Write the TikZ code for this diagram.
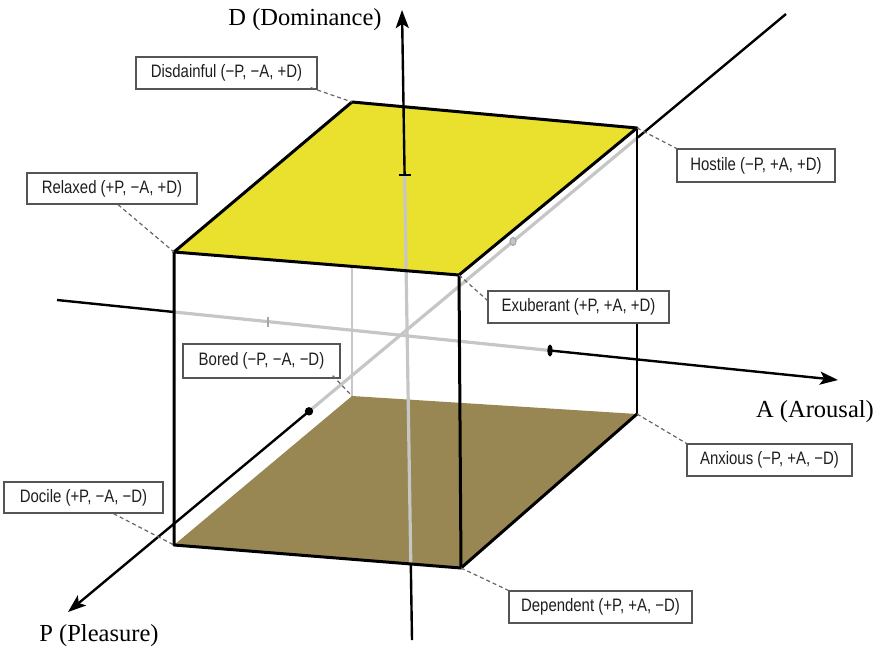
\documentclass[tikz,border=0pt]{standalone}
\usepackage{fontspec}
\setmainfont{Liberation Serif}
\newfontfamily\labfont[FakeStretch=0.83]{Liberation Sans}
\usetikzlibrary{arrows.meta,calc}
\definecolor{topyellow}{RGB}{233,225,45}
\definecolor{floorbrown}{RGB}{152,135,82}
\definecolor{axisgrey}{RGB}{198,198,198}
\definecolor{boxgrey}{RGB}{85,85,85}
\definecolor{textgrey}{RGB}{30,30,30}
\begin{document}
\begin{tikzpicture}[x=1pt,y=-1pt,
  lab/.style={draw=boxgrey,line width=1.3pt,fill=white,
    font=\labfont\fontsize{18}{21}\selectfont,text=textgrey,
    minimum height=32pt,inner sep=2pt},
  leader/.style={draw=black!60,dash pattern=on 4pt off 3pt,line width=1.2pt},
  axisblack/.style={line width=2.4pt,black},
  axisgreyline/.style={line width=3.2pt,axisgrey},
  edge/.style={line width=3pt,black,line join=round,line cap=round},
  arrowtip/.style={-{Stealth[length=18pt,width=13pt,inset=4pt]}},
  axlabel/.style={font=\fontsize{24.5}{28}\selectfont,inner sep=0pt}]
\useasboundingbox (0,0) rectangle (880,648);
% cube corners
\coordinate (tfl) at (174,252);
\coordinate (tbl) at (352,102);
\coordinate (tbr) at (637,128);
\coordinate (tfr) at (459,275);
\coordinate (bfl) at (174,545);
\coordinate (bbl) at (352,396);
\coordinate (bbr) at (637,414);
\coordinate (bfr) at (461,568);
% axis points
\coordinate (dtop) at (402,10);
\coordinate (dbar) at (404.6,175);
\coordinate (dfloor) at (410.8,564);
\coordinate (dbot) at (412,640);
\coordinate (aleft) at (57,300);
\coordinate (aedge) at (174,312);
\coordinate (atick) at (268,321.6);
\coordinate (amark) at (550,350.5);
\coordinate (atip) at (838,380);
\coordinate (ptop) at (786,14);
\coordinate (pcorner) at (638,137.3);
\coordinate (pring) at (513,241.4);
\coordinate (pdot) at (309,411.3);
\coordinate (ptip) at (68,612);
% hidden back edge
\draw[line width=1.3pt,black!22] (tbl) -- (bbl);
% faces
\fill[topyellow] (tfl) -- (tbl) -- (tbr) -- (tfr) -- cycle;
\fill[floorbrown] (bfl) -- (bbl) -- (bbr) -- (bfr) -- cycle;
% grey parts of axes
\draw[axisgreyline] (dbar) -- (dfloor);
\draw[axisgreyline] (aedge) -- (amark);
\draw[axisgreyline] (pcorner) -- (pdot);
% black parts of axes
\draw[axisblack,arrowtip] (dbar) -- (dtop);
\draw[axisblack] (dfloor) -- (dbot);
\draw[axisblack] (aleft) -- (aedge);
\draw[axisblack,arrowtip] (amark) -- (atip);
\draw[axisblack] (pcorner) -- (ptop);
\draw[axisblack,arrowtip] (pdot) -- (ptip);
% markers
\draw[line width=2.6pt] ($(dbar)+(-6,0)$) -- ($(dbar)+(6,0)$);
\fill[black] (amark) ellipse [x radius=2.6pt, y radius=6pt];
\draw[line width=1.8pt,black!35] ($(atick)+(0,-5)$) -- ($(atick)+(0,5)$);
\fill[black] (pdot) circle (4.2pt);
\draw[line width=1.1pt,black!35,fill=axisgrey] (pring) ellipse [x radius=3pt, y radius=4pt];
% cube edges
\draw[edge] (tfl) -- (tbl) -- (tbr) -- (tfr) -- cycle;
\draw[edge] (tfl) -- (bfl) -- (bfr) -- (tfr);
\draw[edge] (bfr) -- (bbr);
\draw[line width=2.2pt,black] (tbr) -- (bbr);
% labels
\node[lab,minimum width=181pt] (dis) at (226.5,73) {Disdainful (−P, −A, +D)};
\node[lab,minimum width=170pt,minimum height=31pt] (rel) at (112,188.5) {Relaxed (+P, −A, +D)};
\node[lab,minimum width=181pt] (exu) at (578.5,307) {Exuberant (+P, +A, +D)};
\node[lab,minimum width=158pt,minimum height=33pt] (hos) at (756,165.5) {Hostile (−P, +A, +D)};
\node[lab,minimum width=157pt,minimum height=34pt] (bor) at (261.5,361) {Bored (−P, −A, −D)};
\node[lab,minimum width=159pt,minimum height=31pt] (doc) at (83.5,497.5) {Docile (+P, −A, −D)};
\node[lab,minimum width=165pt] (anx) at (769.5,460) {Anxious (−P, +A, −D)};
\node[lab,minimum width=183pt] (dep) at (600.5,607) {Dependent (+P, +A, −D)};
% leaders
\draw[leader] ($(dis.south east)+(-7,-2)$) -- (tbl);
\draw[leader] ($(rel.south)+(6,0)$) -- (tfl);
\draw[leader] (tfr) -- ($(exu.north west)+(0,10)$);
\draw[leader] (tbr) -- (hos.north west);
\draw[leader] ($(bor.south east)+(-8,-3)$) -- (bbl);
\draw[leader] ($(doc.south)+(30,0)$) -- (bfl);
\draw[leader] (bbr) -- (anx.north west);
\draw[leader] (bfr) -- (dep.north west);
% axis labels
\node[axlabel] (dlab) at (305,20) {D (Dominance)};
\node[axlabel] (alab) at (815,412) {A (Arousal)};
\node[axlabel] (plab) at (99,636) {P (Pleasure)};
\end{tikzpicture}
\end{document}
